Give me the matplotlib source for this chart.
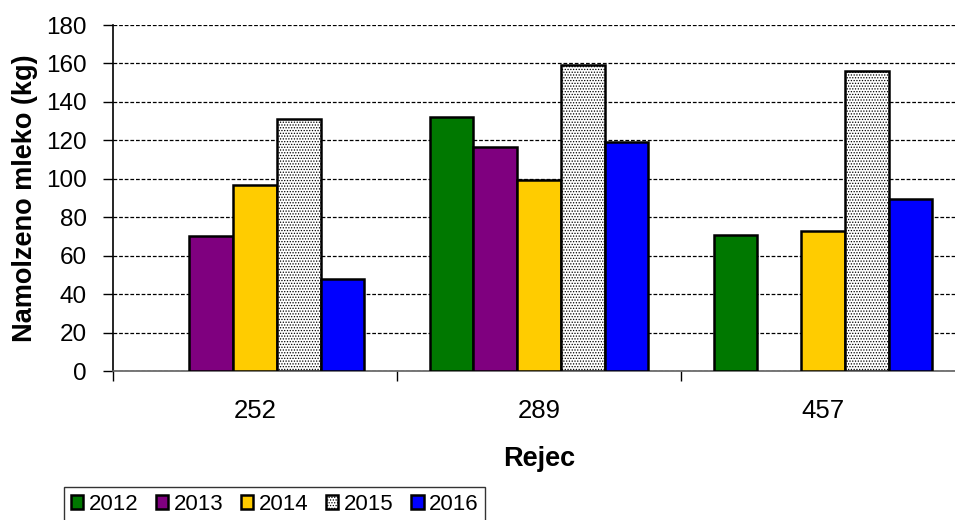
import matplotlib
matplotlib.use("Agg")
import matplotlib.pyplot as plt
import numpy as np

categories = ["252", "289", "457"]
years = ["2012", "2013", "2014", "2015", "2016"]
v2012 = [np.nan, 132, 71]
v2013 = [70, 116.5, np.nan]
v2014 = [97, 99.5, 73]
v2015 = [131, 159, 156]
v2016 = [48, 119, 89.5]
series = [v2012, v2013, v2014, v2015, v2016]
colors = ["#007800", "#7f007f", "#ffcc00", "white", "#0000ff"]
hatches = [None, None, None, "......", None]

plt.rcParams['font.family'] = ['Liberation Sans', 'DejaVu Sans']
plt.rcParams['hatch.linewidth'] = 0.6

fig = plt.figure(figsize=(9.55, 5.2), dpi=100)
ax = fig.add_axes([113/955, 1-371/520, (965-113)/955, (371-25)/520])

n = len(series)
bw = 1/(n+1.5)
x = np.arange(len(categories))
for i, (vals, c, h, y) in enumerate(zip(series, colors, hatches, years)):
    pos = x + (i - (n-1)/2)*bw
    ax.bar(pos, vals, width=bw, color=c, edgecolor="black", linewidth=1.8,
           hatch=h, label=y, zorder=3)

ax.set_xlim(-0.5, 2.5)
ax.set_ylim(0, 180)
ax.set_yticks(np.arange(0, 181, 20))
ax.yaxis.grid(True, linestyle=(0, (3, 1.5)), color="black", linewidth=0.9, zorder=0)
ax.set_xticks(x)
ax.set_xticklabels(categories)
ax.set_xticks([-0.5, 0.5, 1.5, 2.5], minor=True)
ax.tick_params(axis='x', which='major', length=0, pad=20, labelsize=18.5)
ax.tick_params(axis='x', which='minor', length=7, width=1, color="black")
ax.tick_params(axis='y', length=7, width=1, labelsize=17.5, pad=12)
for s in ["top", "right"]:
    ax.spines[s].set_visible(False)
ax.spines["left"].set_linewidth(1.2)
ax.spines["bottom"].set_linewidth(1.2)
ax.spines["bottom"].set_color("#606060")

ax.set_ylabel("Namolzeno mleko (kg)", fontsize=19.5, fontweight="bold", labelpad=6)
ax.set_xlabel("Rejec", fontsize=19.5, fontweight="bold", labelpad=17)

leg = fig.legend(loc="upper left", bbox_to_anchor=(64/955, 1-487/520), ncol=5,
                 fontsize=16, frameon=True, fancybox=False, edgecolor="black",
                 handlelength=0.55, handleheight=0.55, handletextpad=0.25,
                 columnspacing=0.8, borderpad=0.3, borderaxespad=0)
leg.get_frame().set_linewidth(1.0)

fig.savefig("out.png", dpi=100)
